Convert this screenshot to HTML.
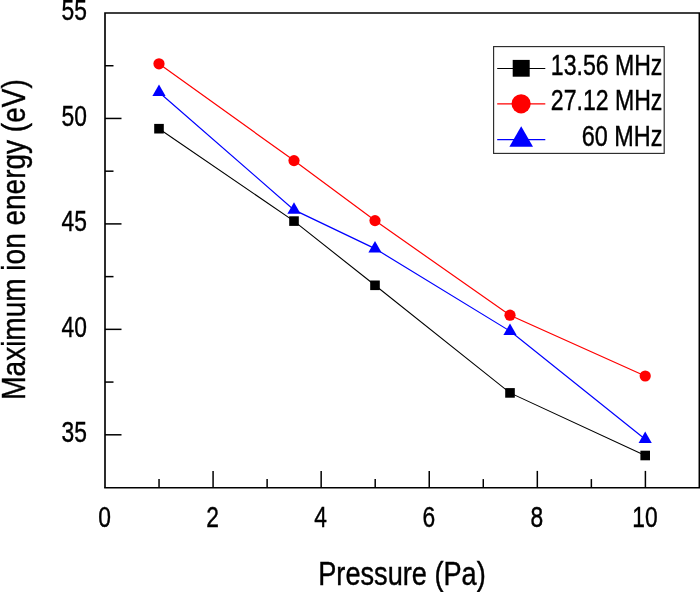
<!DOCTYPE html>
<html><head><meta charset="utf-8"><title>Maximum ion energy vs pressure</title>
<style>html,body{margin:0;padding:0;background:#fff;overflow:hidden}svg{display:block;filter:grayscale(0);will-change:transform}text{font-family:"Liberation Sans",sans-serif;fill:#000;stroke:#000;stroke-width:0.42px}</style></head><body>
<svg width="700" height="592" viewBox="0 0 700 592">
<rect width="700" height="592" fill="#fff"/>
<g stroke="#000" stroke-width="1.65" fill="none" stroke-linecap="butt">
<path d="M105.0,487.7 V13.0 H701.2"/>
<path d="M104.18,487.7 H701.2"/>
<path d="M699.35,13.0 V487.7"/>
</g>
<g stroke="#000" stroke-width="1.5" fill="none">
<path d="M159.04,487.7 v-8.6"/>
<path d="M213.07999999999998,487.7 v-16.8"/>
<path d="M267.12,487.7 v-8.6"/>
<path d="M321.15999999999997,487.7 v-16.8"/>
<path d="M375.2,487.7 v-8.6"/>
<path d="M429.24,487.7 v-16.8"/>
<path d="M483.28,487.7 v-8.6"/>
<path d="M537.3199999999999,487.7 v-16.8"/>
<path d="M591.36,487.7 v-8.6"/>
<path d="M645.4,487.7 v-16.8"/>
<path d="M105.0,434.80 h16.5"/>
<path d="M105.0,382.07 h8.5"/>
<path d="M105.0,329.35 h16.5"/>
<path d="M105.0,276.62 h8.5"/>
<path d="M105.0,223.90 h16.5"/>
<path d="M105.0,171.18 h8.5"/>
<path d="M105.0,118.45 h16.5"/>
<path d="M105.0,65.72 h8.5"/>
</g>
<text transform="translate(104.5,527) scale(0.77,1)" font-size="29.6" text-anchor="middle">0</text>
<text transform="translate(212.57999999999998,527) scale(0.77,1)" font-size="29.6" text-anchor="middle">2</text>
<text transform="translate(320.65999999999997,527) scale(0.77,1)" font-size="29.6" text-anchor="middle">4</text>
<text transform="translate(428.74,527) scale(0.77,1)" font-size="29.6" text-anchor="middle">6</text>
<text transform="translate(536.8199999999999,527) scale(0.77,1)" font-size="29.6" text-anchor="middle">8</text>
<text transform="translate(644.9,527) scale(0.77,1)" font-size="29.6" text-anchor="middle">10</text>
<text transform="translate(86.9,442.00) scale(0.77,1)" font-size="29.6" text-anchor="end">35</text>
<text transform="translate(86.9,336.55) scale(0.77,1)" font-size="29.6" text-anchor="end">40</text>
<text transform="translate(86.9,231.10) scale(0.77,1)" font-size="29.6" text-anchor="end">45</text>
<text transform="translate(86.9,125.65) scale(0.77,1)" font-size="29.6" text-anchor="end">50</text>
<text transform="translate(86.9,20.20) scale(0.77,1)" font-size="29.6" text-anchor="end">55</text>
<text transform="translate(402,584.7) scale(0.828,1)" font-size="32.8" text-anchor="middle">Pressure (Pa)</text>
<text transform="translate(24.6,239.5) rotate(-90) scale(0.854,1)" font-size="32.8" text-anchor="middle">Maximum ion energy (eV)</text>
<polyline points="159,128.7 294,221.1 375,285.3 510,392.9 645.2,455.5" fill="none" stroke="#000" stroke-width="1.1"/>
<rect x="154.2" y="123.90" width="9.6" height="9.6" fill="#000"/>
<rect x="289.2" y="216.30" width="9.6" height="9.6" fill="#000"/>
<rect x="370.2" y="280.50" width="9.6" height="9.6" fill="#000"/>
<rect x="505.2" y="388.10" width="9.6" height="9.6" fill="#000"/>
<rect x="640.4000000000001" y="450.70" width="9.6" height="9.6" fill="#000"/>
<polyline points="159,63.8 294,160.6 375,220.6 510,315.2 645.2,376.0" fill="none" stroke="#f00" stroke-width="1.2"/>
<circle cx="159" cy="63.8" r="5.6" fill="#f00"/>
<circle cx="294" cy="160.6" r="5.6" fill="#f00"/>
<circle cx="375" cy="220.6" r="5.6" fill="#f00"/>
<circle cx="510" cy="315.2" r="5.6" fill="#f00"/>
<circle cx="645.2" cy="376.0" r="5.6" fill="#f00"/>
<polyline points="159,92.2 294,209.9 375,248.6 510,331.1 645.2,439.2" fill="none" stroke="#00f" stroke-width="1.2"/>
<polygon points="159,84.58 152.40,96.01 165.60,96.01" fill="#00f"/>
<polygon points="294,202.28 287.40,213.71 300.60,213.71" fill="#00f"/>
<polygon points="375,240.98 368.40,252.41 381.60,252.41" fill="#00f"/>
<polygon points="510,323.48 503.40,334.91 516.60,334.91" fill="#00f"/>
<polygon points="645.2,431.58 638.60,443.01 651.80,443.01" fill="#00f"/>
<rect x="493.6" y="46.6" width="170.6" height="106.8" fill="#fff" stroke="#2a2a2a" stroke-width="1.15"/>
<path d="M497.2,68.5 H545.3" stroke="#000" stroke-width="1.1"/>
<rect x="512.7" y="59.9" width="17" height="16.8" fill="#000"/>
<path d="M497.2,103.8 H545.3" stroke="#f00" stroke-width="1.2"/>
<circle cx="521.1" cy="103.8" r="9.6" fill="#f00"/>
<path d="M497.2,139.6 H545.3" stroke="#00f" stroke-width="1.2"/>
<polygon points="521.2,126.27 509.40,146.71 533.00,146.71" fill="#00f"/>
<text transform="translate(662.4,74.6) scale(0.78,1)" font-size="29.6" text-anchor="end">13.56 MHz</text>
<text transform="translate(662.4,110.4) scale(0.78,1)" font-size="29.6" text-anchor="end">27.12 MHz</text>
<text transform="translate(662.4,146.2) scale(0.792,1)" font-size="29.6" text-anchor="end">60 MHz</text>
</svg></body></html>
